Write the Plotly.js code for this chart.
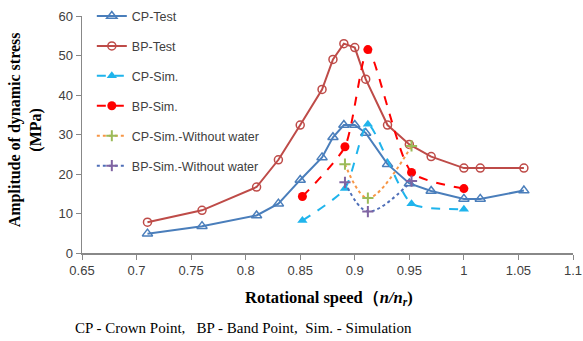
<!DOCTYPE html>
<html><head><meta charset="utf-8">
<script src="https://cdn.plot.ly/plotly-3.0.1.min.js"></script>
<style>body{margin:0;padding:0;background:#fff}#chart{width:583px;height:341px}</style>
</head><body><div id="chart"></div>
<script>
// Test data (x = n/n_r)
const testSpeed = [0.71, 0.76, 0.81, 0.83, 0.85, 0.87, 0.88, 0.89, 0.90, 0.91, 0.93, 0.95, 0.97, 1.0, 1.015, 1.055];
const cpTest = [4.9, 6.8, 9.5, 12.5, 18.5, 24.2, 29.3, 32.4, 32.4, 30.4, 22.5, 17.6, 15.7, 13.7, 13.7, 15.8];
const bpTest = [7.8, 10.8, 16.7, 23.6, 32.4, 41.4, 49.0, 53.0, 52.0, 44.0, 32.4, 27.5, 24.4, 21.5, 21.5, 21.5];
// Simulation data
const simSpeed = [0.852, 0.891, 0.912, 0.952, 1.0];
const cpSim = [8.2, 16.3, 32.6, 12.5, 11.1];
const bpSim = [14.3, 26.9, 51.5, 20.4, 16.3];
const drySpeed = [0.891, 0.912, 0.952];
const cpSimDry = [22.5, 13.9, 27.1];
const bpSimDry = [17.9, 10.5, 18.2];

const serif = 'Liberation Serif, Times New Roman, serif';
const sans = 'Liberation Sans, Arial, sans-serif';

const traces = [
  {name:'CP-Test', x:testSpeed, y:cpTest, mode:'lines+markers', legendgroup:'a',
   line:{color:'#4a7ebb', width:2}, marker:{symbol:'triangle-up-open', size:9, color:'#4a7ebb', line:{width:1.5}}},
  {name:'BP-Test', x:testSpeed, y:bpTest, mode:'lines+markers', legendgroup:'b',
   line:{color:'#be4b48', width:2}, marker:{symbol:'circle-open', size:8, color:'#be4b48', line:{width:1.5}}},
  {name:'CP-Sim.', x:simSpeed, y:cpSim, mode:'lines+markers', legendgroup:'c',
   line:{color:'#1fb4ec', width:2, dash:'dash', shape:'spline', smoothing:0.6}, marker:{symbol:'triangle-up', size:9, color:'#1fb4ec'}},
  {name:'BP-Sim.', x:simSpeed, y:bpSim, mode:'lines+markers', legendgroup:'d',
   line:{color:'#ff0000', width:2, dash:'dash', shape:'spline', smoothing:0.6}, marker:{symbol:'circle', size:9, color:'#ff0000'}},
  {name:'CP-Sim.-Without water', x:drySpeed, y:cpSimDry, mode:'lines+markers', legendgroup:'e',
   line:{color:'#f79646', width:2, dash:'dot', shape:'spline', smoothing:1}, marker:{symbol:'cross-thin-open', size:8, color:'#9bbb59', line:{width:2, color:'#9bbb59'}}},
  {name:'BP-Sim.-Without water', x:drySpeed, y:bpSimDry, mode:'lines+markers', legendgroup:'f',
   line:{color:'#4f6fb8', width:2, dash:'dot', shape:'spline', smoothing:1}, marker:{symbol:'cross-thin-open', size:8, color:'#8064a2', line:{width:2, color:'#8064a2'}}}
];

const layout = {
  width:583, height:341,
  margin:{l:82, r:10, t:16, b:88, autoexpand:false},
  paper_bgcolor:'#fff', plot_bgcolor:'#fff',
  showlegend:true,
  legend:{x:0.02, y:1.062, xanchor:'left', yanchor:'top', traceorder:'grouped', tracegroupgap:10.7,
          font:{family:sans, size:12.5, color:'#404040'}, bgcolor:'rgba(0,0,0,0)'},
  xaxis:{range:[0.65,1.1], dtick:0.05, tick0:0.65, showgrid:false, zeroline:false,
         showline:true, linecolor:'#888', linewidth:1.5, ticks:'outside', ticklen:5, tickcolor:'#888',
         tickfont:{family:sans, size:13, color:'#404040'}},
  yaxis:{range:[0,60], dtick:10, showgrid:false, zeroline:false,
         showline:true, linecolor:'#888', linewidth:1.5, ticks:'outside', ticklen:5, tickcolor:'#888',
         tickfont:{family:sans, size:13, color:'#404040'}},
  annotations:[
    {text:'<b>Amplitude of dynamic stress<br>(MPa)</b>', xref:'paper', yref:'paper',
     x:-0.115, y:0.52, xanchor:'center', yanchor:'middle', textangle:-90, showarrow:false,
     font:{family:serif, size:16, color:'#000'}},
    {text:'<b>Rotational speed（<i>n/n<sub>r</sub></i>)</b>', xref:'paper', yref:'paper',
     x:0.503, y:-0.19, xanchor:'center', yanchor:'middle', showarrow:false,
     font:{family:serif, size:16.5, color:'#000'}},
    {text:'CP - Crown Point,&nbsp;&nbsp;&nbsp;BP - Band Point,&nbsp;&nbsp;Sim. - Simulation', xref:'paper', yref:'paper',
     x:-0.018, y:-0.315, xanchor:'left', yanchor:'middle', showarrow:false,
     font:{family:serif, size:15, color:'#000'}}]
};
Plotly.newPlot('chart', traces, layout, {displayModeBar:false, staticPlot:true});
</script></body></html>
